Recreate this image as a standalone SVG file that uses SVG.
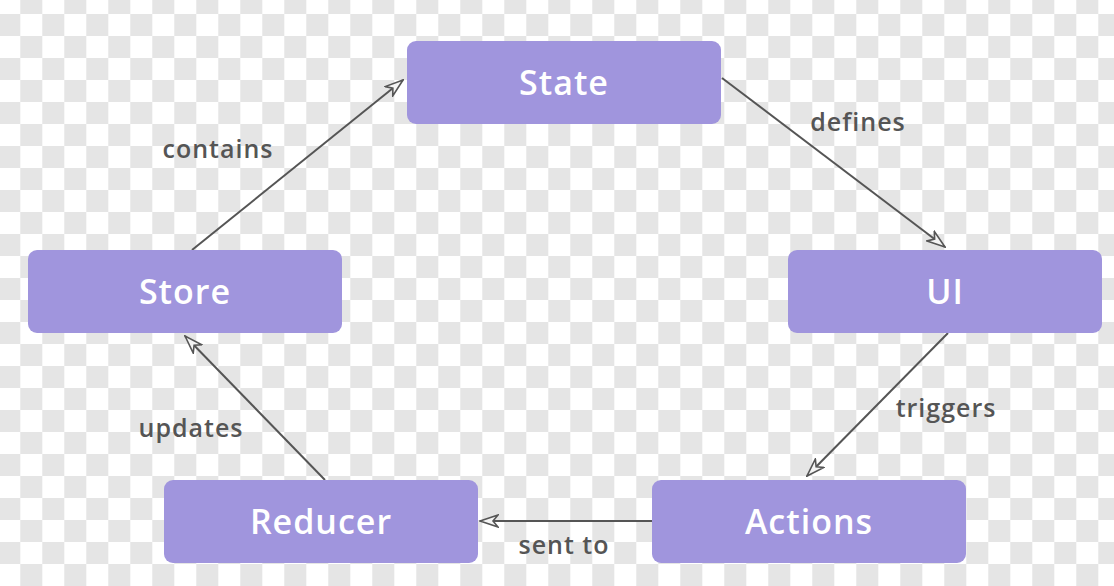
<svg xmlns="http://www.w3.org/2000/svg" width="1114" height="586" viewBox="0 0 1114 586">
  <defs>
    <marker id="arrow" viewBox="0 0 20 14" markerWidth="20" markerHeight="14" refX="19" refY="7" orient="auto" markerUnits="userSpaceOnUse">
      <path d="M19,7 L1,1 L6,7 L1,13 Z" fill="#f4f4f4" stroke="#555555" stroke-width="1.6" stroke-linejoin="miter"/>
    </marker>
    <style>
      .node rect { fill: #a095dd; }
      .node text { fill: #ffffff; font-family: "Open Sans", Lato, "Liberation Sans", sans-serif; font-size: 34px; font-weight: 600; letter-spacing: 1px; text-anchor: middle; }
      .edge line { stroke: #555555; stroke-width: 2; marker-end: url(#arrow); }
      .label { fill: #555555; font-family: "Open Sans", Lato, "Liberation Sans", sans-serif; font-size: 25px; font-weight: 600; letter-spacing: 1px; text-anchor: middle; }
    </style>
  </defs>
  <rect x="0" y="0" width="1114" height="586" fill="#ffffff"/>
  <g id="checkerboard" stroke="#e5e5e5" stroke-width="22" stroke-dasharray="22 22" fill="none">
    <line stroke-dashoffset="22" x1="-1.7" y1="3" x2="1114" y2="3"/>
    <line x1="-1.7" y1="25" x2="1114" y2="25"/>
    <line stroke-dashoffset="22" x1="-1.7" y1="47" x2="1114" y2="47"/>
    <line x1="-1.7" y1="69" x2="1114" y2="69"/>
    <line stroke-dashoffset="22" x1="-1.7" y1="91" x2="1114" y2="91"/>
    <line x1="-1.7" y1="113" x2="1114" y2="113"/>
    <line stroke-dashoffset="22" x1="-1.7" y1="135" x2="1114" y2="135"/>
    <line x1="-1.7" y1="157" x2="1114" y2="157"/>
    <line stroke-dashoffset="22" x1="-1.7" y1="179" x2="1114" y2="179"/>
    <line x1="-1.7" y1="201" x2="1114" y2="201"/>
    <line stroke-dashoffset="22" x1="-1.7" y1="223" x2="1114" y2="223"/>
    <line x1="-1.7" y1="245" x2="1114" y2="245"/>
    <line stroke-dashoffset="22" x1="-1.7" y1="267" x2="1114" y2="267"/>
    <line x1="-1.7" y1="289" x2="1114" y2="289"/>
    <line stroke-dashoffset="22" x1="-1.7" y1="311" x2="1114" y2="311"/>
    <line x1="-1.7" y1="333" x2="1114" y2="333"/>
    <line stroke-dashoffset="22" x1="-1.7" y1="355" x2="1114" y2="355"/>
    <line x1="-1.7" y1="377" x2="1114" y2="377"/>
    <line stroke-dashoffset="22" x1="-1.7" y1="399" x2="1114" y2="399"/>
    <line x1="-1.7" y1="421" x2="1114" y2="421"/>
    <line stroke-dashoffset="22" x1="-1.7" y1="443" x2="1114" y2="443"/>
    <line x1="-1.7" y1="465" x2="1114" y2="465"/>
    <line stroke-dashoffset="22" x1="-1.7" y1="487" x2="1114" y2="487"/>
    <line x1="-1.7" y1="509" x2="1114" y2="509"/>
    <line stroke-dashoffset="22" x1="-1.7" y1="531" x2="1114" y2="531"/>
    <line x1="-1.7" y1="553" x2="1114" y2="553"/>
    <line stroke-dashoffset="22" x1="-1.7" y1="575" x2="1114" y2="575"/>
  </g>

  <g id="connectors" class="edge">
    <line x1="192" y1="250" x2="403" y2="80"/>
    <line x1="722" y1="78" x2="945" y2="247"/>
    <line x1="948" y1="333" x2="807" y2="476"/>
    <line x1="652" y1="521" x2="480" y2="521"/>
    <line x1="325" y1="480" x2="185" y2="336"/>
  </g>

  <g id="edge-labels">
    <text class="label" x="218" y="158">contains</text>
    <text class="label" x="858" y="131">defines</text>
    <text class="label" x="946" y="417">triggers</text>
    <text class="label" x="564" y="554">sent to</text>
    <text class="label" x="191" y="437">updates</text>
  </g>

  <g id="node-state" class="node">
    <rect x="407" y="41" width="314" height="83" rx="9"/>
    <text x="564" y="95">State</text>
  </g>
  <g id="node-ui" class="node">
    <rect x="788" y="250" width="314" height="83" rx="9"/>
    <text x="945" y="304">UI</text>
  </g>
  <g id="node-store" class="node">
    <rect x="28" y="250" width="314" height="83" rx="9"/>
    <text x="185" y="304">Store</text>
  </g>
  <g id="node-reducer" class="node">
    <rect x="164" y="480" width="314" height="83" rx="9"/>
    <text x="321" y="534">Reducer</text>
  </g>
  <g id="node-actions" class="node">
    <rect x="652" y="480" width="314" height="83" rx="9"/>
    <text x="809" y="534">Actions</text>
  </g>
</svg>
